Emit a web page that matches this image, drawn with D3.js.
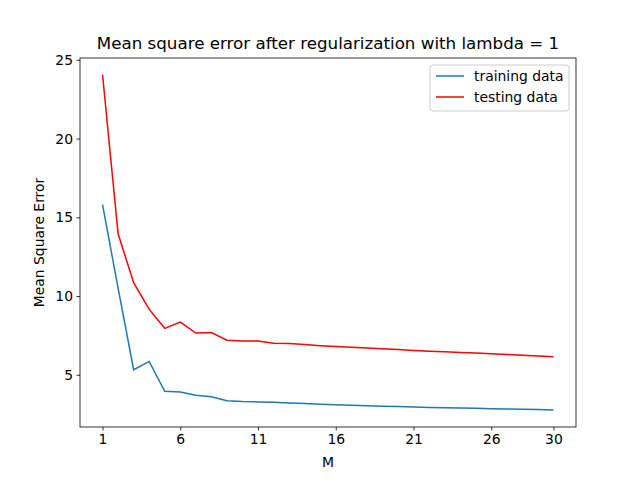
<!DOCTYPE html>
<html><head><meta charset="utf-8">
<script src="https://cdn.jsdelivr.net/npm/d3@7"></script>
<style>body{margin:0;background:#fff}text{font-family:"DejaVu Sans",sans-serif}</style>
</head><body><svg id="c" width="640" height="480"></svg>
<script>
const M = [1,2,3,4,5,6,7,8,9,10,11,12,13,14,15,16,17,18,19,20,21,22,23,24,25,26,27,28,29,30];
const training = [15.8,10.5,5.32,5.85,3.95,3.9,3.7,3.6,3.35,3.3,3.28,3.25,3.21,3.17,3.13,3.1,3.07,3.04,3.01,2.98,2.95,2.93,2.91,2.89,2.87,2.85,2.83,2.81,2.79,2.76];
const testing = [24.05,13.95,10.85,9.15,7.95,8.35,7.65,7.68,7.2,7.15,7.15,7.0,6.98,6.92,6.85,6.8,6.75,6.7,6.65,6.6,6.55,6.5,6.46,6.42,6.38,6.33,6.29,6.24,6.2,6.15];
const xTicks = [1,6,11,16,21,26,30];
const yTicks = [5,10,15,20,25];

const svg = d3.select("#c");
const L=80,R=576,T=58,B=427;
const x = d3.scaleLinear().domain([-0.45,31.45]).range([L,R]);
const y = d3.scaleLinear().domain([1.685,25.115]).range([B,T]);

svg.append("rect").attr("x",L).attr("y",T).attr("width",R-L).attr("height",B-T).attr("fill","none").attr("stroke","#000").attr("stroke-width",0.8);

const xa = svg.append("g").attr("transform",`translate(0,${B})`).call(d3.axisBottom(x).tickValues(xTicks).tickSize(3.5).tickPadding(3.5).tickFormat(d3.format("d")));
const ya = svg.append("g").attr("transform",`translate(${L},0)`).call(d3.axisLeft(y).tickValues(yTicks).tickSize(3.5).tickPadding(3.5).tickFormat(d3.format("d")));
[xa,ya].forEach(a=>{a.select(".domain").remove();a.selectAll("line").attr("stroke","#000").attr("stroke-width",0.8);a.selectAll("text").attr("font-size",13.9).attr("fill","#000").style("font-family","DejaVu Sans");});

const line = arr => d3.line().x((d,i)=>x(M[i])).y(d=>y(d))(arr);
svg.append("path").attr("d",line(training)).attr("fill","none").attr("stroke","#1f77b4").attr("stroke-width",1.5);
svg.append("path").attr("d",line(testing)).attr("fill","none").attr("stroke","red").attr("stroke-width",1.5);

svg.append("text").attr("x",(L+R)/2).attr("y",49).attr("text-anchor","middle").attr("font-size",16.7).text("Mean square error after regularization with lambda = 1");
svg.append("text").attr("x",(L+R)/2).attr("y",467).attr("text-anchor","middle").attr("font-size",13.9).text("M");
svg.append("text").attr("transform",`translate(44,${(T+B)/2}) rotate(-90)`).attr("text-anchor","middle").attr("font-size",13.9).text("Mean Square Error");

const lg = svg.append("g");
lg.append("rect").attr("x",430).attr("y",65).attr("width",139).attr("height",46).attr("rx",3).attr("fill","#fff").attr("fill-opacity",0.8).attr("stroke","#ccc");
[["training data","#1f77b4"],["testing data","red"]].forEach((s,i)=>{
  const yy=76+i*21;
  lg.append("line").attr("x1",436).attr("x2",464).attr("y1",yy).attr("y2",yy).attr("stroke",s[1]).attr("stroke-width",1.5);
  lg.append("text").attr("x",474).attr("y",yy+5).attr("font-size",13.9).text(s[0]);
});
</script></body></html>
